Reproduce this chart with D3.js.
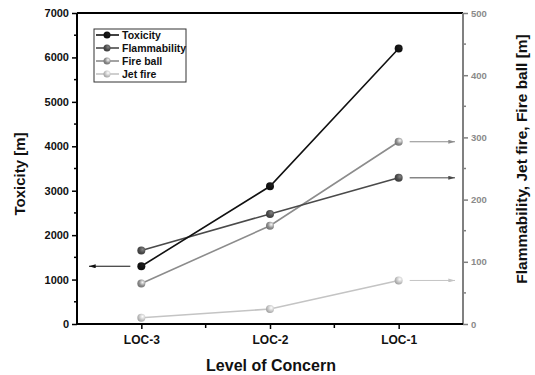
<!DOCTYPE html>
<html lang="en">
<head>
<meta charset="utf-8">
<script src="https://d3js.org/d3.v7.min.js"></script>
<style>
  body { margin: 0; background: #fff; }
  text { font-family: "Liberation Sans", Arial, sans-serif; font-weight: bold; }
</style>
</head>
<body>
<div id="chart"></div>
<script>
// data
var levels = ["LOC-3", "LOC-2", "LOC-1"];
var toxicity = [1300, 3100, 6200];          // left axis
var flammability = [118, 177, 235];         // right axis
var fireBall = [65, 158, 293];              // right axis
var jetFire = [10, 24, 70];                 // right axis
var leftTicks = [0, 1000, 2000, 3000, 4000, 5000, 6000, 7000];
var rightTicks = [0, 100, 200, 300, 400, 500];

var series = [
  {name: "Toxicity", values: toxicity, axis: "left", color: "#111111"},
  {name: "Flammability", values: flammability, axis: "right", color: "#4a4a4a"},
  {name: "Fire ball", values: fireBall, axis: "right", color: "#8c8c8c"},
  {name: "Jet fire", values: jetFire, axis: "right", color: "#c4c4c4"}
];

var W = 535, H = 375;
var margin = {top: 13, right: 72, bottom: 51, left: 77},
    width = W - margin.left - margin.right,
    height = H - margin.top - margin.bottom;

var svg = d3.select("#chart").append("svg")
    .attr("width", W)
    .attr("height", H);

var defs = svg.append("defs");
series.forEach(function(s, i) {
  var c = d3.color(s.color);
  var grad = defs.append("radialGradient")
      .attr("id", "ball" + i)
      .attr("cx", "65%").attr("cy", "35%").attr("r", "70%");
  grad.append("stop").attr("offset", "0%").attr("stop-color", c.brighter(1.6));
  grad.append("stop").attr("offset", "60%").attr("stop-color", c);
  grad.append("stop").attr("offset", "100%").attr("stop-color", c.darker(0.6));
});
["#111111", "#4a4a4a", "#8c8c8c", "#c4c4c4"].forEach(function(col, i) {
  defs.append("marker")
      .attr("id", "arrow" + i)
      .attr("viewBox", "0 0 10 6")
      .attr("refX", 10).attr("refY", 3)
      .attr("markerWidth", 8).attr("markerHeight", 4)
      .attr("markerUnits", "userSpaceOnUse")
      .attr("orient", "auto")
    .append("path")
      .attr("d", "M0,0L10,3L0,6Z")
      .attr("fill", col);
});

var g = svg.append("g")
    .attr("transform", "translate(" + margin.left + "," + margin.top + ")");

var x = d3.scalePoint().domain(levels).range([0, width]).padding(0.5);
var yL = d3.scaleLinear().domain([0, 7000]).range([height, 0]);
var yR = d3.scaleLinear().domain([0, 500]).range([height, 0]);
function yOf(s) { return s.axis == "left" ? yL : yR; }

// frame: top line
g.append("line")
    .attr("x1", 0).attr("x2", width).attr("y1", 0).attr("y2", 0)
    .attr("stroke", "#000").attr("stroke-width", 2);

// left axis
var leftAxis = g.append("g")
    .call(d3.axisLeft(yL).tickValues(leftTicks).tickSize(5).tickPadding(3).tickFormat(d3.format("d")));
leftAxis.select(".domain").attr("stroke-width", 2).attr("d", "M0," + height + "V0");
leftAxis.selectAll(".tick line").attr("stroke-width", 1.5);
leftAxis.selectAll("text").attr("font-size", 11).attr("fill", "#111");
g.append("g").selectAll("line")
    .data(d3.range(500, 7000, 1000))
    .join("line")
    .attr("x1", -3).attr("x2", 0)
    .attr("y1", function(d) { return yL(d); }).attr("y2", function(d) { return yL(d); })
    .attr("stroke", "#000").attr("stroke-width", 1.5);

// right axis
var rightAxis = g.append("g")
    .attr("transform", "translate(" + width + ",0)")
    .call(d3.axisRight(yR).tickValues(rightTicks).tickSize(5).tickPadding(3));
rightAxis.select(".domain").attr("stroke", "#808080").attr("stroke-width", 2).attr("d", "M0," + height + "V0");
rightAxis.selectAll(".tick line").attr("stroke", "#808080").attr("stroke-width", 1.5);
rightAxis.selectAll("text").attr("font-size", 9.5).attr("fill", "#8a8a8a");
g.append("g").selectAll("line")
    .data(d3.range(50, 500, 100))
    .join("line")
    .attr("x1", width).attr("x2", width + 3)
    .attr("y1", function(d) { return yR(d); }).attr("y2", function(d) { return yR(d); })
    .attr("stroke", "#808080").attr("stroke-width", 1.5);

// bottom axis
var bottomAxis = g.append("g")
    .attr("transform", "translate(0," + height + ")")
    .call(d3.axisBottom(x).tickSize(5).tickPadding(6));
bottomAxis.select(".domain").attr("stroke-width", 2).attr("d", "M0,0H" + width);
bottomAxis.selectAll(".tick line").attr("stroke-width", 1.5);
bottomAxis.selectAll("text").attr("font-size", 12).attr("fill", "#111");
var step = x.step();
g.append("g").selectAll("line")
    .data(levels.slice(1))
    .join("line")
    .attr("x1", function(d) { return x(d) - step / 2; })
    .attr("x2", function(d) { return x(d) - step / 2; })
    .attr("y1", height).attr("y2", height + 4)
    .attr("stroke", "#000").attr("stroke-width", 1.5);

// axis titles
svg.append("text")
    .attr("transform", "translate(25,174) rotate(-90)")
    .attr("text-anchor", "middle")
    .attr("font-size", 15)
    .attr("fill", "#111")
    .text("Toxicity [m]");
svg.append("text")
    .attr("transform", "translate(527,159) rotate(-90)")
    .attr("text-anchor", "middle")
    .attr("font-size", 15.5)
    .attr("fill", "#111")
    .text("Flammability, Jet fire, Fire ball [m]");
svg.append("text")
    .attr("x", 271).attr("y", 371)
    .attr("text-anchor", "middle")
    .attr("font-size", 16)
    .attr("fill", "#111")
    .text("Level of Concern");

// lines and points
var line = function(s) {
  return d3.line()
    .x(function(d, i) { return x(levels[i]); })
    .y(function(d) { return yOf(s)(d); })(s.values);
};
series.slice().reverse().forEach(function(s) {
  var i = series.indexOf(s);
  g.append("path")
      .attr("d", line(s))
      .attr("fill", "none")
      .attr("stroke", s.color)
      .attr("stroke-width", 1.6);
  g.selectAll(null)
      .data(s.values)
      .enter()
      .append("circle")
      .attr("cx", function(d, j) { return x(levels[j]); })
      .attr("cy", function(d) { return yOf(s)(d); })
      .attr("r", 4)
      .attr("fill", "url(#ball" + i + ")");
});

// arrows pointing to each series' axis
var first = levels[0], last = levels[levels.length - 1];
g.append("line")
    .attr("x1", x(first) - 11).attr("x2", 12)
    .attr("y1", yL(toxicity[0])).attr("y2", yL(toxicity[0]))
    .attr("stroke", series[0].color).attr("stroke-width", 1)
    .attr("marker-end", "url(#arrow0)");
series.slice(1).forEach(function(s, k) {
  var yy = yR(s.values[s.values.length - 1]);
  g.append("line")
      .attr("x1", x(last) + 11).attr("x2", width - 8)
      .attr("y1", yy).attr("y2", yy)
      .attr("stroke", s.color).attr("stroke-width", 1)
      .attr("marker-end", "url(#arrow" + (k + 1) + ")");
});

// legend
var legend = svg.append("g").attr("transform", "translate(94,29)");
legend.append("rect")
    .attr("width", 92).attr("height", 53)
    .attr("fill", "#fff").attr("stroke", "#333").attr("stroke-width", 1);
series.forEach(function(s, i) {
  var row = legend.append("g").attr("transform", "translate(0," + (6 + i * 13) + ")");
  row.append("line")
      .attr("x1", 2).attr("x2", 25).attr("y1", 0).attr("y2", 0)
      .attr("stroke", s.color).attr("stroke-width", 1.6);
  row.append("circle").attr("cx", 13).attr("cy", 0).attr("r", 3.5)
      .attr("fill", "url(#ball" + i + ")");
  row.append("text")
      .attr("x", 28).attr("y", 4)
      .attr("font-size", 10.5)
      .attr("fill", "#111")
      .text(s.name);
});
</script>
</body>
</html>
